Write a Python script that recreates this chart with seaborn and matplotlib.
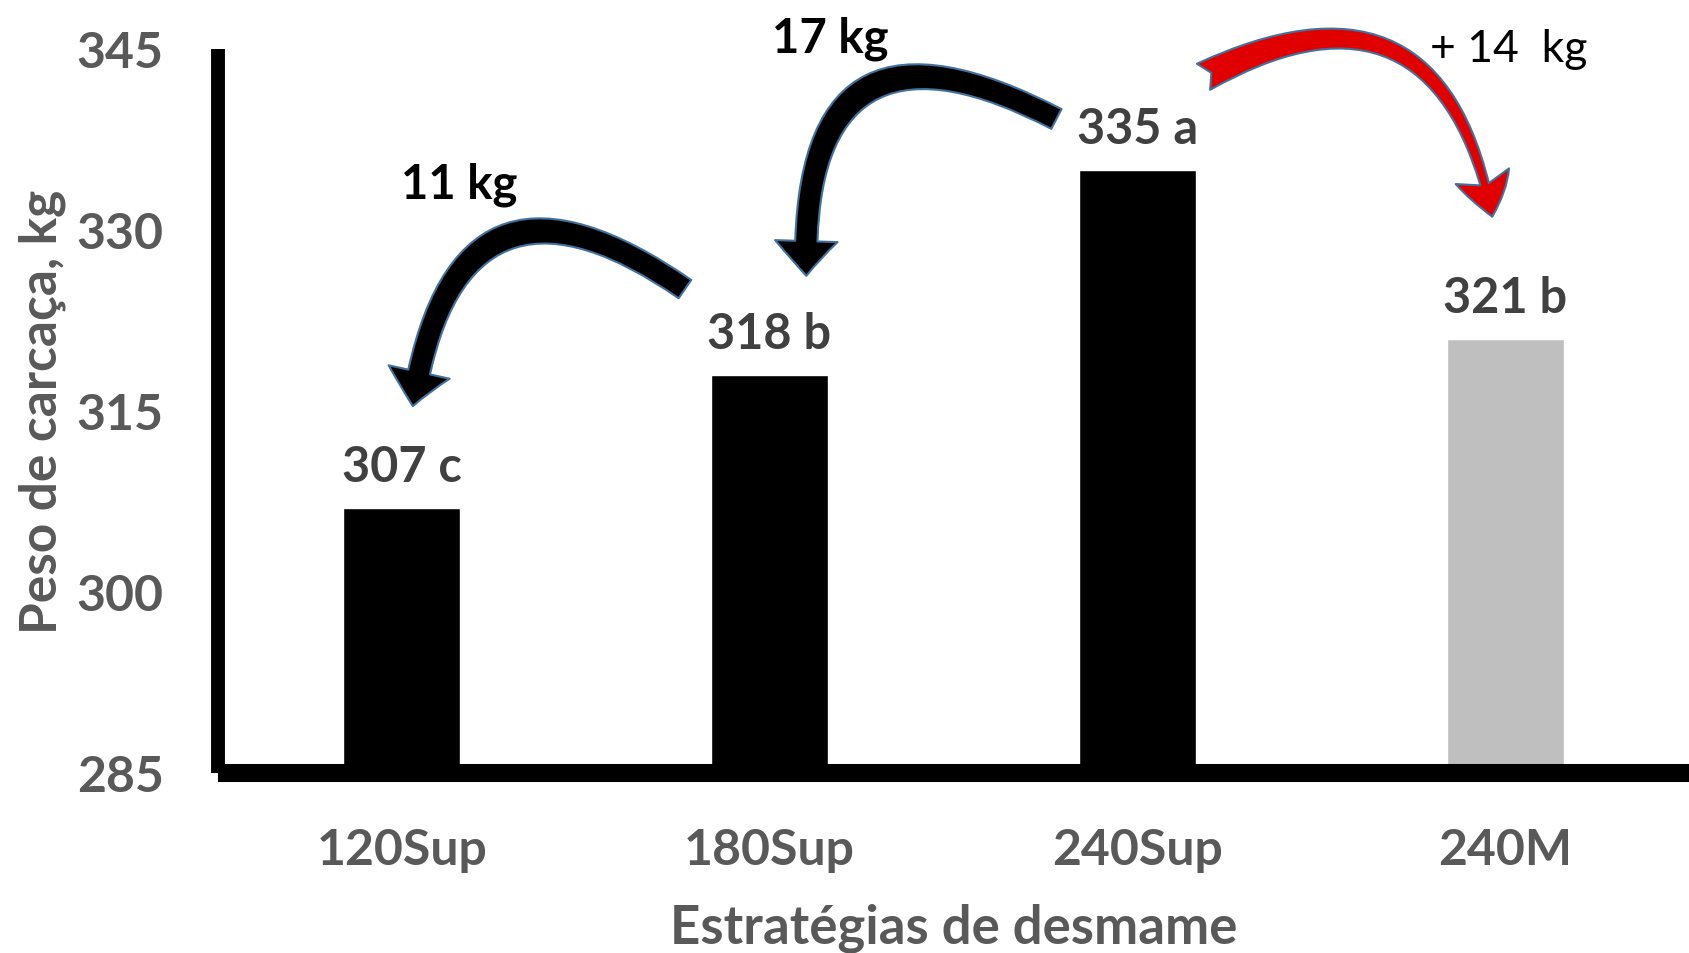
import matplotlib
matplotlib.use("Agg")
import matplotlib.pyplot as plt
import numpy as np
import seaborn as sns

## Data
categorias = ["120Sup", "180Sup", "240Sup", "240M"]
peso = [307, 318, 335, 321]
letras = ["c", "b", "a", "b"]
cores = ["#000000", "#000000", "#000000", "#BFBFBF"]
yticks = [285, 300, 315, 330, 345]

# arrows between the bars and the difference written next to them
setas_txt = ["11 kg", "17 kg", "+ 14  kg"]
setas_tail = [(0.77, 325.1), (1.78, 339.2), (2.18, 342.7)]
setas_tip = [(0.03, 315.4), (1.10, 326.2), (2.965, 331.1)]
setas_rad = [0.8, 0.85, -0.66]
setas_cor = ["#000000", "#000000", "#E00000"]
setas_estilo = ["simple,head_length=0.5,head_width=0.9,tail_width=0.32",
                "simple,head_length=0.5,head_width=0.9,tail_width=0.32",
                "fancy,head_length=0.6,head_width=0.8,tail_width=0.42"]
txt_pos = [(0.155, 332.7), (1.166, 344.8), (3.011, 344.0)]
txt_bold = [True, True, False]

##########################################################################

sns.set_style("white")
plt.rcParams['font.family'] = ['Lato', 'DejaVu Sans']

fig = plt.figure(figsize=(16.89, 9.54), dpi=100)
ax = fig.add_axes([0.129, 0.1887, 0.871, 0.7589])

sns.barplot(x=categorias, y=peso, hue=categorias, palette=cores, width=0.318,
            legend=False, saturation=1, ax=ax)

ax.set_ylim(285, 345)
ax.set_xlim(-0.5, 3.5)
ax.set_yticks(yticks)

for s in ["top", "right"]:
    ax.spines[s].set_visible(False)
for s, lw in [("left", 10), ("bottom", 13)]:
    ax.spines[s].set_linewidth(lw)
    ax.spines[s].set_color("black")
    ax.spines[s].set_capstyle("butt")

ax.tick_params(axis="y", length=0, pad=39, labelsize=36, labelcolor="#595959")
ax.tick_params(axis="x", length=0, pad=39, labelsize=36, labelcolor="#595959")
for lab in ax.get_xticklabels() + ax.get_yticklabels():
    lab.set_fontweight("bold")

ax.set_xlabel("Estratégias de desmame", fontsize=38, color="#595959", fontweight="bold", labelpad=22)
ax.set_ylabel("Peso de carcaça, kg", fontsize=37, color="#595959", fontweight="bold", labelpad=8)

## value labels
for i, (v, l) in enumerate(zip(peso, letras)):
    ax.text(i, v + 2.2, f"{v} {l}", ha="center", va="baseline", fontsize=35,
            fontweight="bold", color="#404040")

## arrows
for tail, tip, rad, cor, est in zip(setas_tail, setas_tip, setas_rad, setas_cor, setas_estilo):
    ax.annotate("", xy=tip, xytext=tail, annotation_clip=False,
                arrowprops=dict(arrowstyle=est,
                                connectionstyle=f"arc3,rad={rad}", fc=cor, ec="#41719C",
                                lw=1.5, mutation_scale=50, shrinkA=0, shrinkB=0))

for t, (tx, ty), b in zip(setas_txt, txt_pos, txt_bold):
    ax.text(tx, ty, t, ha="center", va="baseline", fontsize=34 if b else 32,
            fontweight="bold" if b else "normal", color="black", clip_on=False)

fig.savefig("out.png", dpi=100)
